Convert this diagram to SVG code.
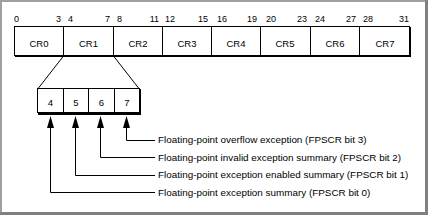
<svg xmlns="http://www.w3.org/2000/svg" width="428" height="215" viewBox="0 0 428 215">
<style>
.ln{stroke:#000;stroke-width:1;fill:none}
.ah{fill:#000}
.bn{font-family:"Liberation Sans",Arial,sans-serif;font-size:9px;fill:#000}
.cr{font-family:"Liberation Sans",Arial,sans-serif;font-size:9.5px;fill:#000;text-anchor:middle}
.lb{font-family:"Liberation Sans",Arial,sans-serif;font-size:9.9px;fill:#000}
</style>
<defs>
<path id="ahd" d="M0,0 L3.5,12 L-3.5,12 Z"/>
</defs>
<rect x="0" y="0" width="428" height="215" fill="#fff"/>
<path d="M1,215 V1 H428" stroke="#a0a0a0" stroke-width="2" fill="none"/>
<path d="M0,213.5 H426.5 V0" stroke="#808080" stroke-width="3" fill="none"/>
<g id="register">
<rect x="14.5" y="26.5" width="395" height="29" class="ln"/>
<path d="M410.5,27 V57 M15,56.5 H411" class="ln"/>
<path d="M63.5,27 V56 M113.5,27 V56 M162.5,27 V56 M211.5,27 V56 M260.5,27 V56 M310.5,27 V56 M359.5,27 V56" class="ln"/>
<text class="cr" x="39" y="47">CR0</text>
<text class="cr" x="88.5" y="47">CR1</text>
<text class="cr" x="138" y="47">CR2</text>
<text class="cr" x="187" y="47">CR3</text>
<text class="cr" x="236" y="47">CR4</text>
<text class="cr" x="285" y="47">CR5</text>
<text class="cr" x="335" y="47">CR6</text>
<text class="cr" x="385" y="47">CR7</text>
<g class="bn">
<text x="14" y="22">0</text>
<text x="61" y="22" text-anchor="end">3</text>
<text x="68" y="22">4</text>
<text x="110" y="22" text-anchor="end">7</text>
<text x="117" y="22">8</text>
<text x="159" y="22" text-anchor="end">11</text>
<text x="165" y="22">12</text>
<text x="208" y="22" text-anchor="end">15</text>
<text x="217" y="22">16</text>
<text x="257" y="22" text-anchor="end">19</text>
<text x="266" y="22">20</text>
<text x="307" y="22" text-anchor="end">23</text>
<text x="315" y="22">24</text>
<text x="356" y="22" text-anchor="end">27</text>
<text x="363" y="22">28</text>
<text x="409" y="22" text-anchor="end">31</text>
</g>
</g>
<g id="cr1-bits">
<rect x="37.5" y="88.5" width="102" height="24" class="ln"/>
<path d="M140.5,89 V115 M38,113.5 H141 M38,114.5 H141" class="ln"/>
<path d="M63.5,89 V112 M88.5,89 V112 M114.5,89 V112" class="ln"/>
<text class="cr" x="50.5" y="106">4</text>
<text class="cr" x="76" y="106">5</text>
<text class="cr" x="101.5" y="106">6</text>
<text class="cr" x="127" y="106">7</text>
</g>
<g id="labels" class="lb">
<text x="158" y="143">Floating-point overflow exception (FPSCR bit 3)</text>
<text x="158" y="160.5">Floating-point invalid exception summary (FPSCR bit 2)</text>
<text x="158" y="178">Floating-point exception enabled summary (FPSCR bit 1)</text>
<text x="158" y="195.5">Floating-point exception summary (FPSCR bit 0)</text>
</g>
<g id="connectors">
<path d="M63.5,56 L38.5,88 M113.5,56 L138.5,88" class="ln"/>
<path d="M126.5,126 V140.5 H155" class="ln"/>
<path d="M100.5,126 V157.5 H155" class="ln"/>
<path d="M75.5,126 V175.5 H155" class="ln"/>
<path d="M50.5,126 V192.5 H155" class="ln"/>
<use href="#ahd" class="ah" x="126.5" y="116"/>
<use href="#ahd" class="ah" x="100.5" y="116"/>
<use href="#ahd" class="ah" x="75.5" y="116"/>
<use href="#ahd" class="ah" x="50.5" y="116"/>
</g>
</svg>
